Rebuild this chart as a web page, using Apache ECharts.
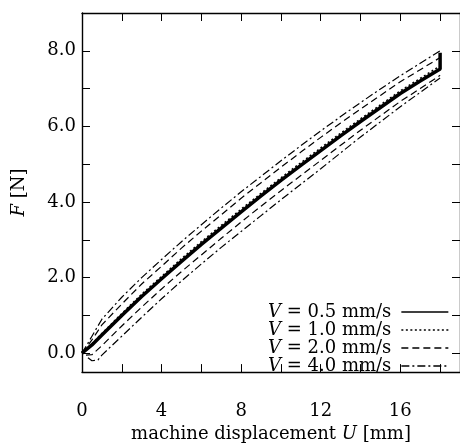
<!DOCTYPE html>
<html><head><meta charset="utf-8">
<script src="https://cdn.jsdelivr.net/npm/echarts@6/dist/echarts.min.js"></script>
<style>html,body{margin:0;padding:0;background:#fff}#c{width:460px;height:448px}</style>
</head><body><div id="c"></div>
<script>
// Data
var U_main = [0,0.5,1,2,3,4,5,6,7,8,9,10,11,12,13,14,15,16,17,18,18];
var F_v05  = [0,0.22,0.48,1.0,1.5,1.97,2.43,2.88,3.31,3.74,4.16,4.57,4.97,5.36,5.75,6.13,6.5,6.87,7.2,7.52,7.95];
var U_v10  = [0,0.5,1,2,3,4,5,6,7,8,9,10,11,12,13,14,15,16,17,18];
var F_v10  = [0,0.25,0.52,1.05,1.56,2.03,2.5,2.95,3.38,3.81,4.23,4.64,5.04,5.43,5.82,6.2,6.57,6.94,7.27,7.6];
var U_v20a = [0,0.5,1,2,3,4,5,6,7,8,9,10,11,12,13,14,15,16,17,18];
var F_v20a = [0,0.35,0.75,1.3,1.83,2.3,2.78,3.23,3.66,4.1,4.51,4.92,5.32,5.71,6.09,6.46,6.82,7.18,7.5,7.82];
var U_v20b = [0.2,0.5,1,2,3,4,5,6,7,8,9,10,11,12,13,14,15,16,17,18];
var F_v20b = [-0.05,-0.04,0.2,0.72,1.22,1.7,2.16,2.6,3.04,3.47,3.89,4.3,4.7,5.1,5.5,5.9,6.28,6.66,7.0,7.35];
var U_v40a = [0,0.5,1,2,3,4,5,6,7,8,9,10,11,12,13,14,15,16,17,18];
var F_v40a = [0,0.45,0.9,1.48,2.0,2.48,2.95,3.4,3.84,4.27,4.68,5.09,5.49,5.88,6.26,6.63,6.99,7.34,7.67,8.0];
var U_v40b = [0.3,0.5,0.8,1,2,3,4,5,6,7,8,9,10,11,12,13,14,15,16,17,18];
var F_v40b = [-0.12,-0.2,-0.18,-0.05,0.45,0.95,1.44,1.91,2.36,2.8,3.22,3.64,4.06,4.47,4.88,5.3,5.72,6.12,6.52,6.9,7.28];

var xTicks = [0,2,4,6,8,10,12,14,16,18];
var xLabels = [0,4,8,12,16];
var yTicks = [0,1,2,3,4,5,6,7,8,9];
var yLabels = [0,2,4,6,8];
var names = ['V = 0.5 mm/s','V = 1.0 mm/s','V = 2.0 mm/s','V = 4.0 mm/s'];

function pairs(u,f){return u.map(function(v,i){return [v,f[i]];});}

var FONT = 'DejaVu Serif';
var chart = echarts.init(document.getElementById('c'), null, {renderer:'canvas'});
function axisCommon(extra){
  var o = {
    type:'value',
    axisLine:{show:true,onZero:false,lineStyle:{color:'#000',width:1.4}},
    axisTick:{show:true,inside:true,length:8,lineStyle:{color:'#000',width:1}},
    splitLine:{show:false}
  };
  for (var k in extra) o[k]=extra[k];
  return o;
}
var dashDot = [8,3,2,3];
function mkSeries(name,data,type,width,z){
  return {type:'line',name:name,data:data,showSymbol:false,symbol:'none',smooth:false,
    lineStyle:{color:'#000',width:width,type:type},itemStyle:{color:'#000'},z:z,animation:false};
}
var option = {
  backgroundColor:'#fff',
  animation:false,
  grid:{left:82,top:13,width:380.8,height:360,containLabel:false},
  xAxis:[
    axisCommon({min:0,max:19,position:'bottom',
      axisTick:{show:true,inside:true,length:8,customValues:xTicks,lineStyle:{color:'#000',width:1}},
      axisLabel:{customValues:xLabels,margin:30,color:'#000',fontFamily:FONT,fontSize:18},
      name:'machine displacement {i|U} [mm]',nameLocation:'middle',nameGap:44,
      nameTextStyle:{color:'#000',fontFamily:FONT,fontSize:18,rich:{i:{fontStyle:'italic',fontFamily:FONT,fontSize:18,color:'#000'}}}
    }),
    axisCommon({min:0,max:19,position:'top',
      axisTick:{show:true,inside:true,length:8,customValues:xTicks,lineStyle:{color:'#000',width:1}},
      axisLabel:{show:false}})
  ],
  yAxis:[
    axisCommon({min:-0.5,max:9,position:'left',
      axisTick:{show:true,inside:true,length:8,customValues:yTicks,lineStyle:{color:'#000',width:1}},
      axisLabel:{customValues:yLabels,margin:6,color:'#000',fontFamily:FONT,fontSize:18,
        formatter:function(v){return v.toFixed(1);}},
      name:'{i|F} [N]',nameLocation:'middle',nameGap:54,nameRotate:90,
      nameTextStyle:{color:'#000',fontFamily:FONT,fontSize:18,rich:{i:{fontStyle:'italic',fontFamily:FONT,fontSize:18,color:'#000'}}}
    }),
    axisCommon({min:-0.5,max:9,position:'right',
      axisTick:{show:true,inside:true,length:8,customValues:yTicks,lineStyle:{color:'#000',width:1}},
      axisLabel:{show:false}})
  ],
  legend:{
    data:names,orient:'vertical',right:6,top:298,align:'right',
    itemWidth:47,itemHeight:12,itemGap:0,
    lineStyle:{width:1.3},
    itemStyle:{color:'rgba(0,0,0,0)',borderWidth:0,opacity:0},
    textStyle:{fontFamily:FONT,fontSize:18,lineHeight:17.7,color:'#000',padding:[0,5,0,0],
      rich:{i:{fontStyle:'italic',fontFamily:FONT,fontSize:18,lineHeight:17.7,color:'#000'}}},
    formatter:function(n){return '{i|V}'+n.slice(1);}
  },
  series:[
    mkSeries(names[3],pairs(U_v40a,F_v40a),dashDot,1.2,3),
    mkSeries(names[3],pairs(U_v40b,F_v40b),dashDot,1.2,3),
    mkSeries(names[2],pairs(U_v20a,F_v20a),[7,4],1.2,3),
    mkSeries(names[2],pairs(U_v20b,F_v20b),[7,4],1.2,3),
    mkSeries(names[0],pairs(U_main,F_v05),'solid',3.5,5),
    mkSeries(names[1],pairs(U_v10,F_v10),[2,2.5],1.5,4)
  ]
};
chart.setOption(option);
</script></body></html>
